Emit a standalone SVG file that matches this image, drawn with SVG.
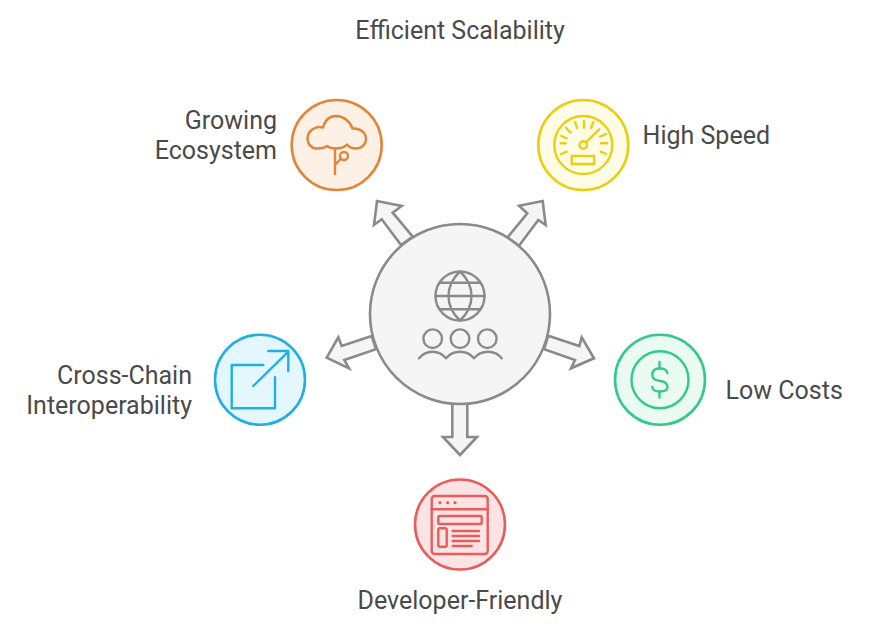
<svg xmlns="http://www.w3.org/2000/svg" width="873" height="630" viewBox="0 0 873 630">
<style>
text{font-family:Roboto,"Liberation Sans",sans-serif;font-size:25px;fill:#4a4a4a}
.e{text-anchor:end}.m{text-anchor:middle}
.n{stroke-width:2.6}
.i{fill:none;stroke-width:2.4;stroke-linecap:round;stroke-linejoin:round}
.c{fill:#f5f5f5;stroke:#8a8a8a;stroke-width:2.6;stroke-linejoin:miter}
.gr{stroke:#8a8a8a}.o{stroke:#e0853a}.y{stroke:#e8cf14}.b{stroke:#1fb0e0}.g{stroke:#34c98a}.r{stroke:#e85c5c}
</style>
<rect width="873" height="630" fill="#fff"/>
<g id="connectors">
<polygon class="c" points="412.7,236.7 392.7,212.7 401.7,206 377,201 374,225 381.7,219.3 401,245"/>
<polygon class="c" points="507.3,237.7 527.3,213.3 519,205.7 542.7,201 545.7,225 538.3,220 519,245.7"/>
<polygon class="c" points="371.7,336 341.7,346 338.3,337.3 326.7,357.7 349,368.3 344.3,360 376,349.3"/>
<polygon class="c" points="548.3,335.7 579.3,346 581.7,337.3 594,358.3 571,368.3 575,360 544,349.3"/>
<polygon class="c" points="452.3,400 452.3,437 443,437 460,455 477,437 467.3,437 467.3,400"/>
</g>
<g id="center">
<circle cx="460" cy="314" r="90" fill="#f5f5f5" stroke="#8a8a8a" stroke-width="2.6"/>
<g class="i gr">
<circle cx="460" cy="296" r="24.5"/>
<path d="M460 271.5C453 278 448.5 286 448.5 296C448.5 306 453 314 460 320.5C467 314 471.5 306 471.5 296C471.5 286 467 278 460 271.5Z"/>
<path d="M440 282.7H480M435.5 296H484.5M440 309.3H480"/>
<circle cx="432.7" cy="338.7" r="9.3"/><circle cx="460" cy="338.7" r="9.3"/><circle cx="487.3" cy="338.7" r="9.3"/>
<path d="M419 358.3C426 349.5 439 349.5 446 358.3C453 349.5 467 349.5 474 358.3C481 349.5 495 349.5 501.7 358.3"/>
</g>
</g>
<g id="growing-ecosystem">
<circle class="n o" cx="336.7" cy="145" r="45" fill="#fdf0e4"/>
<g class="i o">
<path d="M317 148.5C311 148.5 307.5 143.5 307.5 138.5C307.5 131 315 125.5 323 127.5C325 120 330 116 336 116C343 116 350 121 352.5 128.5C361 128 366 133 366 139C366 145 361 148.5 356 148.5C351 148.5 349 147 347 144.5C345 147 342 148.5 335 148.5C331 148.5 329 147.5 327 146C325 147.5 322 148.5 317 148.5Z"/>
<path d="M335 148.5V174M335 165L340.5 159"/>
<circle cx="344" cy="156" r="4"/>
</g>
<text class="e" x="277" y="129.4">Growing</text>
<text class="e" x="277" y="159.4">Ecosystem</text>
</g>
<g id="high-speed">
<circle class="n y" cx="583.3" cy="145" r="45" fill="#fefce4"/>
<g class="i y">
<circle cx="583.3" cy="145" r="29"/>
<circle cx="583.3" cy="145" r="3.7"/>
<path d="M586.7 141.7L599.3 129.3"/>
<path d="M560.7 143.3H565.7M601 143.3H607.3M561 154L566.7 151.7M600.7 151.7L606 154M561 136L566.7 138.3M600 136.7L606 134M566 127.7L570.7 132.7M575 122.3L577.3 128M584 121V127.7M593.3 122.3L591 128"/>
<rect x="571.7" y="156" width="22.6" height="8"/>
</g>
<text x="642.6" y="144.4">High Speed</text>
</g>
<g id="cross-chain">
<circle class="n b" cx="260" cy="379.7" r="45" fill="#e4f7fe"/>
<g class="i b">
<path d="M263.3 365H231.7V408.3H275V377.3"/>
<path d="M253.3 386L288.3 351.7M268.3 351H288.3V371"/>
</g>
<text class="e" x="192" y="384.4">Cross-Chain</text>
<text class="e" x="192" y="414.4">Interoperability</text>
</g>
<g id="low-costs">
<circle class="n g" cx="660" cy="379.7" r="45" fill="#e9fbf2"/>
<g class="i g">
<circle cx="660" cy="379.7" r="28.5"/>
<path d="M659.5 362V368.5M659.5 391.5V397.5"/>
<path d="M667.3 373C667 370 664 368.5 659.5 368.5C655 368.5 652.3 371 652.3 375C652.3 379 656 380.5 660 381C664 381.5 667.5 383 667.5 387C667.5 390 664 391.5 660 391.5C655 391.5 652.5 390 652.3 387"/>
</g>
<text x="725.6" y="399.4">Low Costs</text>
</g>
<g id="developer-friendly">
<circle class="n r" cx="460" cy="524.5" r="45" fill="#fde4e4"/>
<g class="i r">
<rect x="431.7" y="496" width="56" height="58" rx="3"/>
<path d="M431.7 509.3H487.7"/>
<rect x="438.3" y="516" width="43.4" height="8" rx="1.5"/>
<rect x="438.3" y="528.3" width="8.4" height="18.4" rx="1.5"/>
<path d="M452.7 531H479M452.7 536H479M452.7 541H479M452.7 546H471.7"/>
<path d="M440 502.7h.01M447.7 502.7h.01M455 502.7h.01" stroke-width="3.2"/>
</g>
<text class="m" x="460" y="609.4">Developer-Friendly</text>
</g>
<g id="efficient-scalability">
<text class="m" x="460" y="39.4">Efficient Scalability</text>
</g>
</svg>
